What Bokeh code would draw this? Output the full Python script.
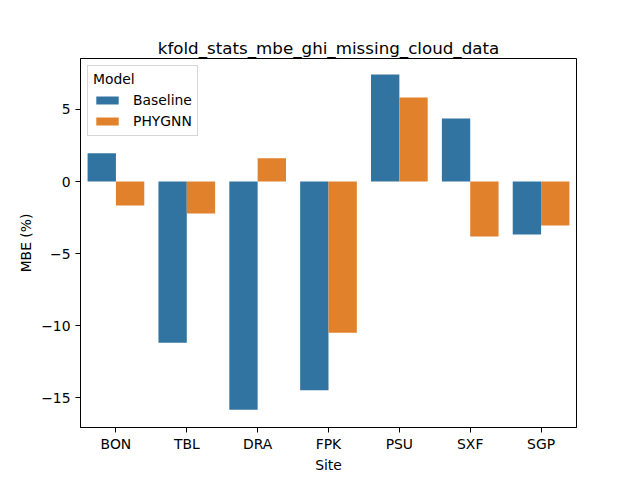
"""Grouped bar chart of k-fold MBE for GHI with missing cloud data."""

from bokeh.embed import file_html
from bokeh.models import ColumnDataSource, FixedTicker, Range1d
from bokeh.plotting import figure
from bokeh.resources import INLINE
from bokeh.transform import dodge

sites = ["BON", "TBL", "DRA", "FPK", "PSU", "SXF", "SGP"]
baseline = [1.96, -11.2, -15.85, -14.5, 7.43, 4.38, -3.68]
phygnn = [-1.66, -2.23, 1.61, -10.5, 5.83, -3.82, -3.06]
y_ticks = [-15, -10, -5, 0, 5]

FONT = "DejaVu Sans"
BLUE = "#3274a1"
ORANGE = "#e1812c"

source = ColumnDataSource(dict(site=sites, baseline=baseline, phygnn=phygnn))

p = figure(
    x_range=sites,
    y_range=Range1d(-17.08, 8.54),
    frame_width=496,
    frame_height=369,
    min_border_left=80,
    min_border_right=56,
    min_border_top=58,
    min_border_bottom=45,
    output_backend="svg",
    toolbar_location=None,
    title="kfold_stats_mbe_ghi_missing_cloud_data",
)

p.vbar(
    x=dodge("site", -0.2, range=p.x_range),
    top="baseline",
    bottom=0,
    width=0.4,
    source=source,
    fill_color=BLUE,
    line_color=None,
    legend_label="Baseline",
)
p.vbar(
    x=dodge("site", 0.2, range=p.x_range),
    top="phygnn",
    bottom=0,
    width=0.4,
    source=source,
    fill_color=ORANGE,
    line_color=None,
    legend_label="PHYGNN",
)

p.title.align = "center"
p.title.text_font = FONT
p.title.text_font_size = "16.7px"
p.title.text_font_style = "normal"
p.title.text_color = "black"
p.title.standoff = 2

p.xgrid.visible = False
p.ygrid.visible = False
p.outline_line_color = "black"
p.outline_line_width = 1

p.yaxis.ticker = FixedTicker(ticks=y_ticks)
p.xaxis.axis_label = "Site"
p.yaxis.axis_label = "MBE (%)"
for axis in (p.xaxis, p.yaxis):
    axis.axis_label_text_font = FONT
    axis.axis_label_text_font_size = "13.9px"
    axis.axis_label_text_font_style = "normal"
    axis.axis_label_text_color = "black"
    axis.major_label_text_font = FONT
    axis.major_label_text_font_size = "13.9px"
    axis.major_label_text_color = "black"
    axis.axis_line_color = "black"
    axis.major_tick_line_color = "black"
    axis.major_tick_out = 5
    axis.major_tick_in = 0
    axis.minor_tick_line_color = None
p.xaxis.major_label_standoff = 3
p.xaxis.axis_label_standoff = 2
p.yaxis.major_label_standoff = 5
p.yaxis.axis_label_standoff = 4
p.yaxis.major_label_orientation = "horizontal"

p.legend.location = "top_left"
p.legend.title = "Model"
p.legend.title_text_font = FONT
p.legend.title_text_font_size = "13.9px"
p.legend.title_text_font_style = "normal"
p.legend.title_text_color = "black"
p.legend.title_standoff = 4
p.legend.label_text_font = FONT
p.legend.label_text_font_size = "13.9px"
p.legend.label_text_color = "black"
p.legend.label_standoff = 12
p.legend.glyph_width = 28
p.legend.glyph_height = 10
p.legend.label_height = 18
p.legend.spacing = 3
p.legend.padding = 5
p.legend.margin = 7
p.legend.border_line_color = "#cccccc"
p.legend.border_line_alpha = 0.8
p.legend.background_fill_alpha = 0.8

open("out.html", "w").write(file_html(p, INLINE))
